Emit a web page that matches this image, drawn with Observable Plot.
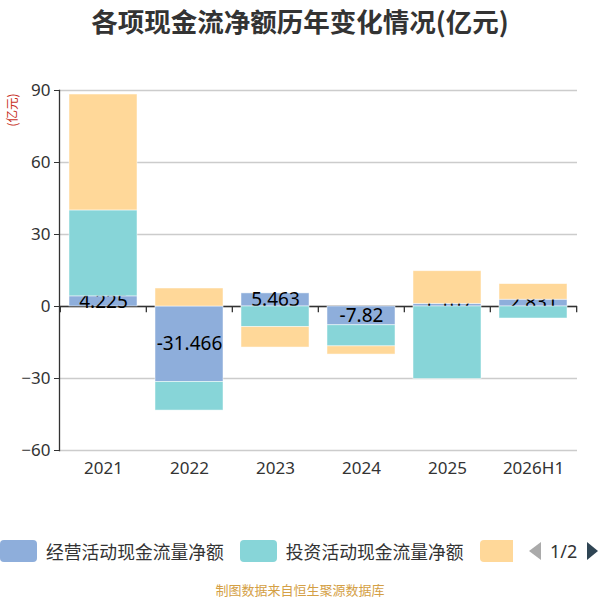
<!DOCTYPE html>
<html>
<head>
<meta charset="utf-8">
<script src="https://cdn.jsdelivr.net/npm/d3@7"></script>
<script src="https://cdn.jsdelivr.net/npm/@observablehq/plot@0.6"></script>
<style>
  html, body { margin: 0; padding: 0; background: #fff; }
  body { width: 600px; height: 600px; position: relative; overflow: hidden; font-family: "Noto Sans", "Noto Sans CJK SC", sans-serif; color: #333; }
  #title { position: absolute; left: 0; top: 0; width: 600px; height: 42px; line-height: 42px; text-align: center; font-size: 26.5px; font-weight: bold; color: #333; font-family: "Noto Sans CJK SC", sans-serif; }
  #chart { position: absolute; left: 0; top: 40px; }
  #unit { position: absolute; left: 12px; top: 110px; transform: translate(-50%, -50%) rotate(-90deg); font-size: 12.5px; line-height: 14px; color: #c8311f; white-space: nowrap; font-family: "Noto Sans CJK SC", sans-serif; }
  #legend { position: absolute; left: 0; top: 539px; width: 513px; height: 24px; overflow: hidden; white-space: nowrap; font-family: "Noto Sans CJK SC", sans-serif; }
  .item { display: inline-flex; align-items: center; margin-right: 16px; height: 24px; }
  .sw { display: inline-block; width: 37px; height: 22px; border-radius: 4px; margin-right: 9px; }
  .lt { font-size: 17.8px; line-height: 22px; color: #333; }
  #pager { position: absolute; left: 529px; top: 539px; height: 24px; display: flex; align-items: center; font-size: 18px; line-height: 22px; color: #333; }
  .tri-l { width: 0; height: 0; border-top: 9px solid transparent; border-bottom: 9px solid transparent; border-right: 12px solid #aaa; margin-right: 9px; }
  .tri-r { width: 0; height: 0; border-top: 9px solid transparent; border-bottom: 9px solid transparent; border-left: 11px solid #2f4554; margin-left: 10px; }
  #footer { position: absolute; left: 0; top: 582px; width: 600px; height: 16px; line-height: 16px; text-align: center; font-size: 13px; color: #d4a045; font-family: "Noto Sans CJK SC", sans-serif; }
</style>
</head>
<body>
<div id="title"></div>
<div id="unit">(亿元)</div>
<div id="chart"></div>
<div id="legend"></div>
<div id="pager"><span class="tri-l"></span><span>1/2</span><span class="tri-r"></span></div>
<div id="footer"></div>
<script>
const titleText = "各项现金流净额历年变化情况(亿元)";
const footerText = "制图数据来自恒生聚源数据库";
const years = ["2021", "2022", "2023", "2024", "2025", "2026H1"];
const seriesNames = ["经营活动现金流量净额", "投资活动现金流量净额", "筹资活动现金流量净额"];
const seriesColors = ["#8eaedb", "#87d5d8", "#ffd899"];
const operating = [4.225, -31.466, 5.463, -7.82, 1.107, 2.831];
const investing = [35.8, -11.9, -8.6, -8.8, -30.2, -5.0];
const financing = [48.3, 7.5, -8.5, -3.4, 13.6, 6.5];
const yTicks = [-60, -30, 0, 30, 60, 90];
const legendVisible = 2; // page 1 of the legend shows two labelled items + a third swatch

document.getElementById("title").textContent = titleText;
document.getElementById("footer").textContent = footerText;

// Build stacked rows (positives stack up, negatives stack down)
const seriesValues = [operating, investing, financing];
const rows = [];
years.forEach((yr, i) => {
  let pos = 0, neg = 0;
  seriesValues.forEach((vals, s) => {
    const v = vals[i];
    let y1, y2;
    if (v >= 0) { y1 = pos; y2 = pos + v; pos = y2; }
    else { y1 = neg; y2 = neg + v; neg = y2; }
    rows.push({year: yr, series: seriesNames[s], value: v, y1, y2, s});
  });
});
const opRows = rows.filter(d => d.s === 0);
const invRows = rows.filter(d => d.s === 1);
const finRows = rows.filter(d => d.s === 2);

const step = (577 - 59) / years.length;

const chart = Plot.plot({
  width: 600,
  height: 460,
  marginTop: 50,
  marginBottom: 50,
  marginLeft: 59,
  marginRight: 23,
  style: {fontFamily: "Noto Sans, sans-serif", fontSize: "17px", color: "#333", background: "transparent"},
  x: {domain: years, paddingInner: 0.21, paddingOuter: 0.105, label: null},
  y: {domain: [-60, 90], ticks: yTicks, label: null},
  color: {domain: seriesNames, range: seriesColors},
  marks: [
    Plot.gridY(yTicks, {stroke: "#ccc", strokeOpacity: 1, strokeWidth: 1.3}),
    Plot.axisY(yTicks, {tickSize: 5, tickPadding: 4, fontSize: 17, stroke: "#333", fill: "#333", label: null}),
    Plot.axisX({tickSize: 0, tickPadding: 11, fontSize: 17, fill: "#333", label: null}),
    Plot.frame({anchor: "left", stroke: "#333", strokeWidth: 1.3}),
    Plot.ruleY([0], {stroke: "#333", strokeWidth: 1.3}),
    Plot.ruleX(years, {x: d => d, y1: 0, y2: -2.6, dx: -step / 2, stroke: "#333", strokeWidth: 1.3}),
    Plot.ruleX(years.slice(-1), {x: d => d, y1: 0, y2: -2.6, dx: step / 2, stroke: "#333", strokeWidth: 1.3}),
    Plot.barY(opRows, {x: "year", y1: "y1", y2: "y2", fill: "series", stroke: "#fff", strokeOpacity: 0.6, strokeWidth: 0.8}),
    Plot.text(opRows, {x: "year", y: d => (d.y1 + d.y2) / 2, text: d => String(d.value), fill: "#000", fontSize: 19, fontFamily: "Noto Sans, sans-serif"}),
    Plot.barY(invRows, {x: "year", y1: "y1", y2: "y2", fill: "series", stroke: "#fff", strokeOpacity: 0.6, strokeWidth: 0.8}),
    Plot.barY(finRows, {x: "year", y1: "y1", y2: "y2", fill: "series", stroke: "#fff", strokeOpacity: 0.6, strokeWidth: 0.8})
  ]
});
document.getElementById("chart").appendChild(chart);

// Legend (page 1/2: third item's label falls on the next page)
const legend = document.getElementById("legend");
seriesNames.forEach((name, i) => {
  const item = document.createElement("span");
  item.className = "item";
  const sw = document.createElement("span");
  sw.className = "sw";
  sw.style.background = seriesColors[i];
  sw.title = name;
  item.appendChild(sw);
  if (i < legendVisible) {
    const t = document.createElement("span");
    t.className = "lt";
    t.textContent = name;
    item.appendChild(t);
  }
  legend.appendChild(item);
});
</script>
</body>
</html>
